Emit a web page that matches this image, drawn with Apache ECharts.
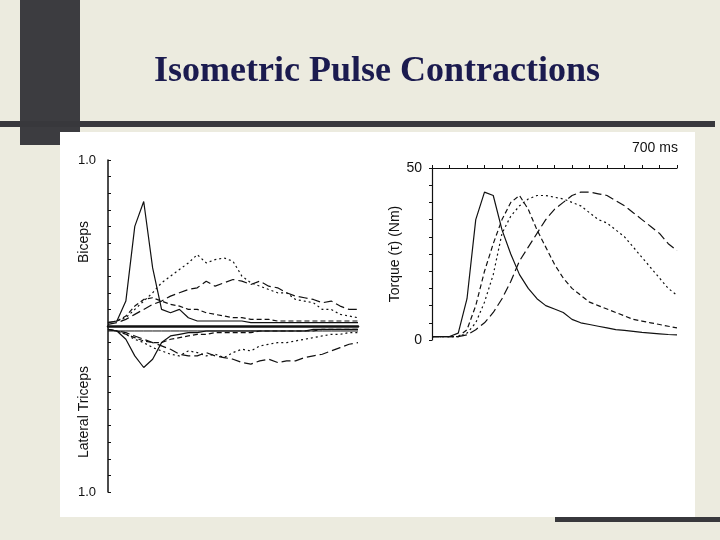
<!DOCTYPE html>
<html><head><meta charset="utf-8">
<script src="https://cdn.jsdelivr.net/npm/echarts@6/dist/echarts.min.js"></script>
<style>html,body{margin:0;padding:0;background:#ecebdf}#c{width:720px;height:540px}</style>
</head><body><div id="c"></div>
<script>
const times = [0,25,50,75,100,125,150,175,200,225,250,275,300,325,350,375,400,425,450,475,500,525,550,575,600,625,650,675,700];
// EMG (normalized), biceps positive, lateral triceps negative
const bicSolid  = [0.02,0.03,0.15,0.6,0.75,0.35,0.1,0.08,0.1,0.05,0.03,0.03,0.03,0.03,0.03,0.03,0.02,0.02,0.02,0.02,0.02,0.02,0.02,0.02,0.02,0.02,0.02,0.02,0.02];
const bicDash   = [0.02,0.03,0.06,0.12,0.16,0.17,0.15,0.13,0.12,0.1,0.1,0.08,0.07,0.06,0.05,0.05,0.04,0.04,0.04,0.03,0.03,0.03,0.03,0.03,0.03,0.03,0.03,0.03,0.03];
const bicDot    = [0.02,0.03,0.05,0.1,0.15,0.2,0.26,0.3,0.34,0.38,0.43,0.38,0.4,0.41,0.39,0.3,0.26,0.24,0.22,0.2,0.2,0.16,0.15,0.14,0.1,0.1,0.07,0.06,0.05];
const bicLong   = [0.01,0.02,0.04,0.07,0.1,0.13,0.15,0.18,0.2,0.22,0.23,0.27,0.24,0.26,0.28,0.27,0.25,0.27,0.24,0.23,0.2,0.18,0.17,0.16,0.14,0.15,0.12,0.1,0.1];
const triSolid  = [-0.02,-0.03,-0.08,-0.18,-0.25,-0.2,-0.1,-0.06,-0.05,-0.04,-0.04,-0.03,-0.03,-0.03,-0.03,-0.03,-0.03,-0.03,-0.03,-0.03,-0.03,-0.03,-0.03,-0.02,-0.02,-0.02,-0.02,-0.02,-0.02];
const triDash   = [-0.02,-0.03,-0.05,-0.07,-0.09,-0.1,-0.1,-0.08,-0.07,-0.06,-0.05,-0.05,-0.04,-0.04,-0.04,-0.04,-0.04,-0.03,-0.03,-0.03,-0.03,-0.03,-0.03,-0.03,-0.02,-0.02,-0.02,-0.02,-0.02];
const triDot    = [-0.02,-0.03,-0.05,-0.08,-0.1,-0.13,-0.15,-0.17,-0.18,-0.15,-0.16,-0.18,-0.17,-0.19,-0.16,-0.14,-0.15,-0.12,-0.11,-0.1,-0.1,-0.09,-0.08,-0.07,-0.06,-0.05,-0.05,-0.04,-0.04];
const triLong   = [-0.02,-0.03,-0.04,-0.06,-0.08,-0.1,-0.12,-0.14,-0.17,-0.18,-0.18,-0.16,-0.18,-0.19,-0.2,-0.22,-0.23,-0.21,-0.2,-0.22,-0.21,-0.21,-0.19,-0.18,-0.17,-0.15,-0.13,-0.11,-0.1];
// Torque (Nm)
const tqSolid = [1,1,1,2,12,35,43,42,32,25,19,15,12,10,9,8,6,5,4.5,4,3.5,3,2.8,2.5,2.2,2,1.8,1.6,1.5];
const tqDash  = [1,1,1,1,3,10,20,28,35,40,42,38,32,27,22,18,15,13,11,10,9,8,7,6,5.5,5,4.5,4,3.5];
const tqDot   = [1,1,1,1,2,5,11,19,31,36,39,41,42,42,41.5,41,40,39,37,35,34,32,30,27,24,21,18,15,13];
const tqLong  = [1,1,1,1,1.5,3,5,8,12,17,23,27,31,35,38,40,42,43,43,42.5,42,40.5,39,37,35,33,31,28,26];

const styles = {solid:'solid', dash:[5,3], dot:[2,3], long:[9,4]};
const pair = a => times.map((t,i)=>[t,a[i]]);
function ln(data, type, g){
  return {type:'line', xAxisIndex:g, yAxisIndex:g, data:pair(data), symbol:'none', smooth:false,
    lineStyle:{color:'#111', width:1.2, type:styles[type]}, silent:true};
}
const chart = echarts.init(document.getElementById('c'));
chart.setOption({
  animation:false,
  backgroundColor:'#ecebdf',
  title:{text:'Isometric Pulse Contractions', left:372, top:49, textAlign:'center',
    textStyle:{fontFamily:'Liberation Serif', fontSize:36, fontWeight:'bold', color:'#1b1b4f'}},
  graphic:[
    {type:'rect', shape:{x:20,y:0,width:60,height:145}, style:{fill:'#3c3c40'}, z:-10},
    {type:'rect', shape:{x:0,y:121,width:715,height:6}, style:{fill:'#38383c'}, z:-10},
    {type:'rect', shape:{x:60,y:132,width:635,height:385}, style:{fill:'#ffffff'}, z:-5},
    {type:'rect', shape:{x:555,y:517,width:165,height:5}, style:{fill:'#38383c'}, z:-10},
    {type:'text', left:632, top:141, style:{text:'700 ms', fontFamily:'Liberation Sans', fontSize:14, fill:'#111'}},
    {type:'text', x:84, y:242, rotation:Math.PI/2, style:{text:'Biceps', fontFamily:'Liberation Sans', fontSize:14, fill:'#111', align:'center', verticalAlign:'middle'}},
    {type:'text', x:84, y:412, rotation:Math.PI/2, style:{text:'Lateral Triceps', fontFamily:'Liberation Sans', fontSize:14, fill:'#111', align:'center', verticalAlign:'middle'}}
  ],
  grid:[
    {left:108, top:160, width:250, height:332},
    {left:432, top:168, width:245, height:172}
  ],
  xAxis:[
    {gridIndex:0, type:'value', min:0, max:700, axisLine:{onZero:true, lineStyle:{color:'#111', width:2.5}},
      axisTick:{show:false}, axisLabel:{show:false}, splitLine:{show:false}},
    {gridIndex:1, type:'value', min:0, max:700, interval:50, position:'top',
      axisLine:{onZero:false, lineStyle:{color:'#111', width:1.2}}, axisTick:{length:3, lineStyle:{color:'#111'}},
      axisLabel:{show:false}, splitLine:{show:false}}
  ],
  yAxis:[
    {gridIndex:0, type:'value', min:-1, max:1, interval:0.1,
      axisLine:{lineStyle:{color:'#111', width:1.5}}, axisTick:{inside:true, length:3, lineStyle:{color:'#111'}},
      axisLabel:{formatter:v=>Math.abs(Math.abs(v)-1)<1e-6?'1.0':'', fontFamily:'Liberation Sans', fontSize:13, color:'#111', margin:12},
      splitLine:{show:false}},
    {gridIndex:1, type:'value', min:0, max:50, interval:5,
      axisLine:{lineStyle:{color:'#111', width:1.2}}, axisTick:{length:3, lineStyle:{color:'#111'}},
      axisLabel:{formatter:v=>(v===0||v===50)?String(v):'', fontFamily:'Liberation Sans', fontSize:14, color:'#111', margin:10},
      name:'Torque (τ) (Nm)', nameLocation:'middle', nameRotate:90, nameGap:22,
      nameTextStyle:{fontFamily:'Liberation Sans', fontSize:14, color:'#111'},
      splitLine:{show:false}}
  ],
  series:[
    ln(bicSolid,'solid',0), ln(bicDash,'dash',0), ln(bicDot,'dot',0), ln(bicLong,'long',0),
    ln(triSolid,'solid',0), ln(triDash,'dash',0), ln(triDot,'dot',0), ln(triLong,'long',0),
    ln(tqSolid,'solid',1), ln(tqDash,'dash',1), ln(tqDot,'dot',1), ln(tqLong,'long',1),
    {type:'line', xAxisIndex:0, yAxisIndex:0, data:pair(times.map(()=>-0.03)), symbol:'none', lineStyle:{color:'#111', width:1}, silent:true}
  ]
});
</script></body></html>
